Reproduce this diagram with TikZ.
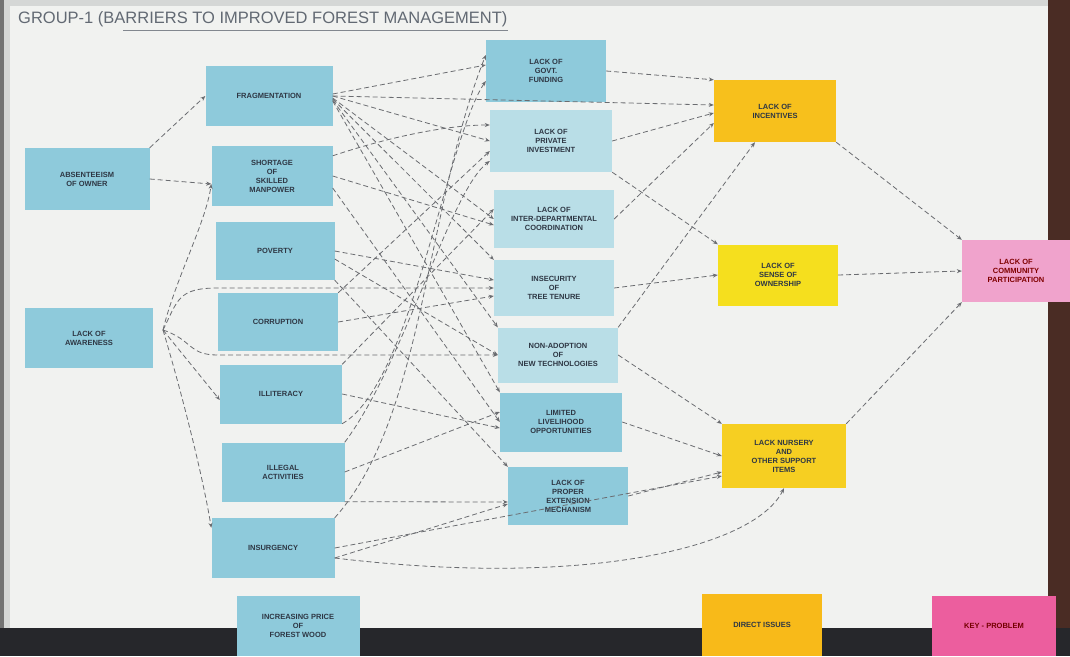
\documentclass[tikz,border=0pt]{standalone}
\usepackage{fontspec}
\setmainfont{Liberation Sans}
\usetikzlibrary{arrows.meta}
\definecolor{board}{HTML}{F1F2F0}
\definecolor{frame}{HTML}{D5D7D6}
\definecolor{brownedge}{HTML}{4A2C24}
\definecolor{darkstrip}{HTML}{26272B}
\definecolor{noteblue}{HTML}{8ECADB}
\definecolor{noteltblue}{HTML}{B9DEE7}
\definecolor{noteorange}{HTML}{F7C01C}
\definecolor{noteyellow}{HTML}{F5DF1E}
\definecolor{notegold}{HTML}{F6CF22}
\definecolor{notepink}{HTML}{F0A3CC}
\definecolor{notehotpink}{HTML}{EC5E9E}
\definecolor{ink}{HTML}{2E3744}
\definecolor{linkgrey}{HTML}{6A6C70}
\tikzset{
  note/.style={inner sep=2pt, align=center, text=ink,
    font=\fontsize{7.5}{9}\selectfont\bfseries},
  bluenote/.style={note, fill=noteblue},
  ltnote/.style={note, fill=noteltblue},
  link/.style={draw=linkgrey, line width=0.8pt, dash pattern=on 5pt off 3pt,
    -{Stealth[length=5pt,width=4pt]}},
}
\begin{document}
\begin{tikzpicture}[x=1pt,y=-1pt]
% background board
\useasboundingbox (0,0) rectangle (1070,656);
\fill[frame] (0,0) rectangle (1070,656);
\fill[board] (10,6) rectangle (1048,628);
\fill[brownedge] (1048,0) rectangle (1070,628);
\fill[darkstrip] (0,628) rectangle (1070,656);
\fill[black!55] (0,0) rectangle (4,628);

% title
\node[text=ink!75, font=\fontsize{16.5}{18}\selectfont, anchor=west, inner sep=0pt] (title) at (18,19)
  {GROUP-1 (BARRIERS TO IMPROVED FOREST MANAGEMENT)};
\draw[ink!60, line width=0.6pt] ([xshift=105pt,yshift=-3pt]title.south west) -- ([yshift=-3pt]title.south east);

% column 1
\node[bluenote, minimum width=125pt, minimum height=62pt] (abs) at (87,179) {ABSENTEEISM\\OF OWNER};
\node[bluenote, minimum width=128pt, minimum height=60pt] (awa) at (89,338) {LACK OF\\AWARENESS};

% column 2
\node[bluenote, minimum width=127pt, minimum height=60pt] (frag) at (269,96) {FRAGMENTATION};
\node[bluenote, minimum width=121pt, minimum height=60pt] (short) at (272,176) {SHORTAGE\\OF\\SKILLED\\MANPOWER};
\node[bluenote, minimum width=119pt, minimum height=58pt] (pov) at (275,251) {POVERTY};
\node[bluenote, minimum width=120pt, minimum height=58pt] (cor) at (278,322) {CORRUPTION};
\node[bluenote, minimum width=122pt, minimum height=59pt] (ill) at (281,394) {ILLITERACY};
\node[bluenote, minimum width=123pt, minimum height=59pt] (leg) at (283,472) {ILLEGAL\\ACTIVITIES};
\node[bluenote, minimum width=123pt, minimum height=60pt] (ins) at (273,548) {INSURGENCY};
\node[bluenote, minimum width=123pt, minimum height=60pt] (price) at (298,626) {INCREASING PRICE\\OF\\FOREST WOOD};

% column 3
\node[bluenote, minimum width=120pt, minimum height=62pt] (gov) at (546,71) {LACK OF\\GOVT.\\FUNDING};
\node[ltnote, minimum width=122pt, minimum height=62pt] (priv) at (551,141) {LACK OF\\PRIVATE\\INVESTMENT};
\node[ltnote, minimum width=120pt, minimum height=58pt] (inter) at (554,219) {LACK OF\\INTER-DEPARTMENTAL\\COORDINATION};
\node[ltnote, minimum width=120pt, minimum height=56pt] (insec) at (554,288) {INSECURITY\\OF\\TREE TENURE};
\node[ltnote, minimum width=120pt, minimum height=55pt] (nonad) at (558,355) {NON-ADOPTION\\OF\\NEW TECHNOLOGIES};
\node[bluenote, minimum width=122pt, minimum height=59pt] (lim) at (561,422) {LIMITED\\LIVELIHOOD\\OPPORTUNITIES};
\node[bluenote, minimum width=120pt, minimum height=58pt] (prop) at (568,496) {LACK OF\\PROPER\\EXTENSION\\MECHANISM};

% yellow direct issues
\node[note, fill=noteorange, minimum width=122pt, minimum height=62pt] (yinc) at (775,111) {LACK OF\\INCENTIVES};
\node[note, fill=noteyellow, minimum width=120pt, minimum height=61pt] (yown) at (778,275) {LACK OF\\SENSE OF\\OWNERSHIP};
\node[note, fill=notegold, minimum width=124pt, minimum height=64pt] (ynur) at (784,456) {LACK NURSERY\\AND\\OTHER SUPPORT\\ITEMS};

% key problem
\node[note, fill=notepink, text=red!50!black, minimum width=108pt, minimum height=62pt] (pink) at (1016,271) {LACK OF\\COMMUNITY\\PARTICIPATION};

% legend
\node[note, fill=noteorange!90!orange, minimum width=120pt, minimum height=62pt] (ydir) at (762,625) {DIRECT ISSUES};
\node[note, fill=notehotpink, text=red!45!black, minimum width=124pt, minimum height=60pt] (pkey) at (994,626) {KEY - PROBLEM};

% column 1 links
\draw[link] (abs.north east) -- (frag.west);
\draw[link] (abs.east) -- ([yshift=-8pt]short.west);
\coordinate (fan) at (163,330);
\draw[link] (fan) .. controls +(12,-50) and +(-6,40) .. ([yshift=-8pt]short.west);
\draw[link] (fan) .. controls +(15,-30) and +(-40,0) .. (cor.north west |- insec.west) -- (insec.west);
\draw[link] (fan) .. controls +(30,10) and +(-30,0) .. (cor.south west |- nonad.west) -- (nonad.west);
\draw[link] (fan) -- ([yshift=-6pt]ill.west);
\draw[link] (fan) .. controls +(15,50) and +(-10,-60) .. ([yshift=-10pt]ins.north west);

% column 2 -> column 3
\draw[link] (frag.east) -- ([yshift=6pt]yinc.west);
\draw[link] ([yshift=2pt]frag.east) -- ([yshift=6pt]gov.west);
\draw[link] (frag.east) -- (priv.west);
\draw[link] ([yshift=-2pt]frag.east) -- (inter.west);
\draw[link] ([yshift=-3pt]frag.east) -- (insec.north west);
\draw[link] ([yshift=-4pt]frag.east) -- (nonad.north west);
\draw[link] ([yshift=-5pt]frag.east) -- (lim.north west);
\draw[link] ([yshift=-10pt]short.north east) .. controls +(60,-20) and +(-40,0) .. ([yshift=16pt]priv.west);
\draw[link] (short.east) -- ([yshift=-6pt]inter.west);
\draw[link] ([yshift=-12pt]short.east) -- (lim.west);
\draw[link] (pov.east) -- ([yshift=8pt]insec.west);
\draw[link] ([yshift=-8pt]pov.east) -- (nonad.west);
\draw[link] (pov.south east) -- (prop.north west);
\draw[link] (cor.north east) -- ([yshift=-10pt]priv.west);
\draw[link] (cor.east) -- ([yshift=-8pt]insec.west);
\draw[link] (ill.north east) -- ([yshift=10pt]inter.west);
\draw[link] (ill.east) -- ([yshift=-6pt]lim.west);
\draw[link] (ill.south east) .. controls +(70,-40) and +(-40,60) .. ([yshift=-10pt]gov.west);
\draw[link] (leg.north east) .. controls +(60,-80) and +(-40,30) .. ([yshift=-20pt]priv.west);
\draw[link] (leg.east) -- ([yshift=10pt]lim.west);
\draw[link] (leg.south east) -- ([yshift=-6pt]prop.west);
\draw[link] (ins.north east) .. controls +(90,-100) and +(-60,150) .. ([yshift=16pt]gov.west);
\draw[link] (ins.east) -- ([yshift=-20pt]ynur.west);
\draw[link] ([yshift=-10pt]ins.east) -- ([yshift=-8pt]prop.west);
\draw[link] ([yshift=-10pt]ins.east) .. controls +(250,30) and +(-30,60) .. (ynur.south);

% column 3 -> direct issues
\draw[link] (gov.east) -- (yinc.north west);
\draw[link] (priv.east) -- ([yshift=-2pt]yinc.west);
\draw[link] (priv.south east) -- (yown.north west);
\draw[link] (inter.east) -- ([yshift=-12pt]yinc.west);
\draw[link] (insec.east) -- (yown.west);
\draw[link] (nonad.north east) -- ([xshift=-20pt]yinc.south);
\draw[link] (nonad.east) -- (ynur.north west);
\draw[link] (lim.east) -- (ynur.west);
\draw[link] (prop.east) -- ([yshift=-16pt]ynur.west);

% direct issues -> key problem
\draw[link] (yinc.south east) -- (pink.north west);
\draw[link] (yown.east) -- (pink.west);
\draw[link] (ynur.north east) -- (pink.south west);
\end{tikzpicture}
\end{document}
